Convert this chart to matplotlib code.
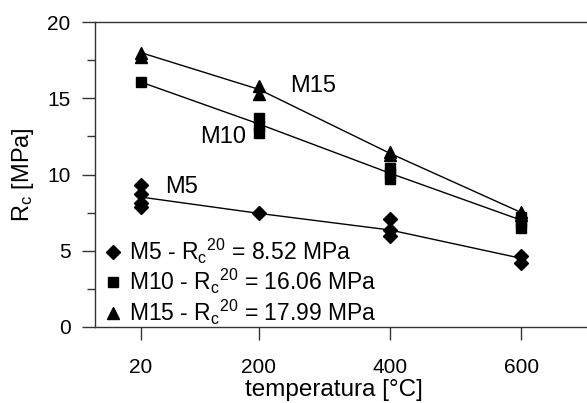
import matplotlib
matplotlib.use("Agg")
import matplotlib.pyplot as plt
import numpy as np

plt.rcParams['font.family'] = ['Liberation Sans', 'DejaVu Sans']
plt.rcParams['mathtext.fontset'] = 'custom'
plt.rcParams['mathtext.rm'] = 'Liberation Sans'
plt.rcParams['mathtext.it'] = 'Liberation Sans'

temps = [20, 200, 400, 600]

# individual specimen results
m5_x = [20, 20, 20, 20, 200, 400, 400, 400, 600, 600]
m5_y = [9.31, 8.72, 8.15, 7.85, 7.45, 7.08, 6.36, 5.99, 4.66, 4.22]
m10_x = [20, 200, 200, 200, 400, 400, 400, 600, 600, 600]
m10_y = [16.04, 13.68, 13.18, 12.74, 10.40, 10.08, 9.68, 7.23, 6.90, 6.47]
m15_x = [20, 20, 200, 200, 400, 400, 600, 600]
m15_y = [18.00, 17.70, 15.78, 15.30, 11.50, 11.28, 7.56, 7.34]

# mean lines
m5_mean = [8.52, 7.45, 6.36, 4.50]
m10_mean = [16.06, 13.31, 10.08, 7.00]
m15_mean = [17.99, 15.58, 11.38, 7.50]

labels = [r"M5 - R$_\mathregular{c}$$^\mathregular{20}$ = 8.52 MPa",
          r"M10 - R$_\mathregular{c}$$^\mathregular{20}$ = 16.06 MPa",
          r"M15 - R$_\mathregular{c}$$^\mathregular{20}$ = 17.99 MPa"]

fig = plt.figure(figsize=(5.87, 4.03), dpi=100)
ax = fig.add_axes([95/587, 1-327/403, 1-95/587, (327-22)/403])

ax.plot(temps, m5_mean, color='black', lw=1.0, zorder=2)
ax.plot(temps, m10_mean, color='black', lw=1.0, zorder=2)
ax.plot(temps, m15_mean, color='black', lw=1.0, zorder=2)

h5, = ax.plot(m5_x, m5_y, ls='none', marker='D', ms=7, color='black', zorder=3)
h10, = ax.plot(m10_x, m10_y, ls='none', marker='s', ms=7, color='black', zorder=3)
h15, = ax.plot(m15_x, m15_y, ls='none', marker='^', ms=9, color='black', zorder=3)

ax.text(247, 15.8, "M15", fontsize=17, ha='left', va='center')
ax.text(110, 12.46, "M10", fontsize=17, ha='left', va='center')
ax.text(57, 9.18, "M5", fontsize=17, ha='left', va='center')

leg = ax.legend([h5, h10, h15], labels, loc='lower left', frameon=False,
                fontsize=16.5, handlelength=0.7, handletextpad=0.35,
                labelspacing=0.07, borderaxespad=0.0, borderpad=0.0,
                bbox_to_anchor=(0.02, 0.0))

ax.set_xlim(-50, 700)
ax.set_ylim(0, 20)
ax.set_xticks(temps)
ax.set_yticks([0, 5, 10, 15, 20])
ax.set_yticks([2.5, 7.5, 12.5, 17.5], minor=True)
ax.tick_params(axis='both', which='major', direction='out', length=9.5, width=1,
               labelsize=15, color='#333333')
ax.tick_params(axis='y', which='minor', direction='out', length=6, width=1, color='#333333')
ax.tick_params(axis='x', pad=13)
ax.tick_params(axis='y', pad=8)
ax.spines['right'].set_visible(False)
for s in ['left', 'top', 'bottom']:
    ax.spines[s].set_color('#333333')
    ax.spines[s].set_linewidth(1.0)

ax.set_xlabel("temperatura [°C]", fontsize=17.5, labelpad=1.5)
ax.xaxis.label.set_x(0.486)
ax.set_ylabel(r"R$_\mathregular{c}$ [MPa]", fontsize=17, labelpad=8)

fig.savefig("out.png", dpi=100)
